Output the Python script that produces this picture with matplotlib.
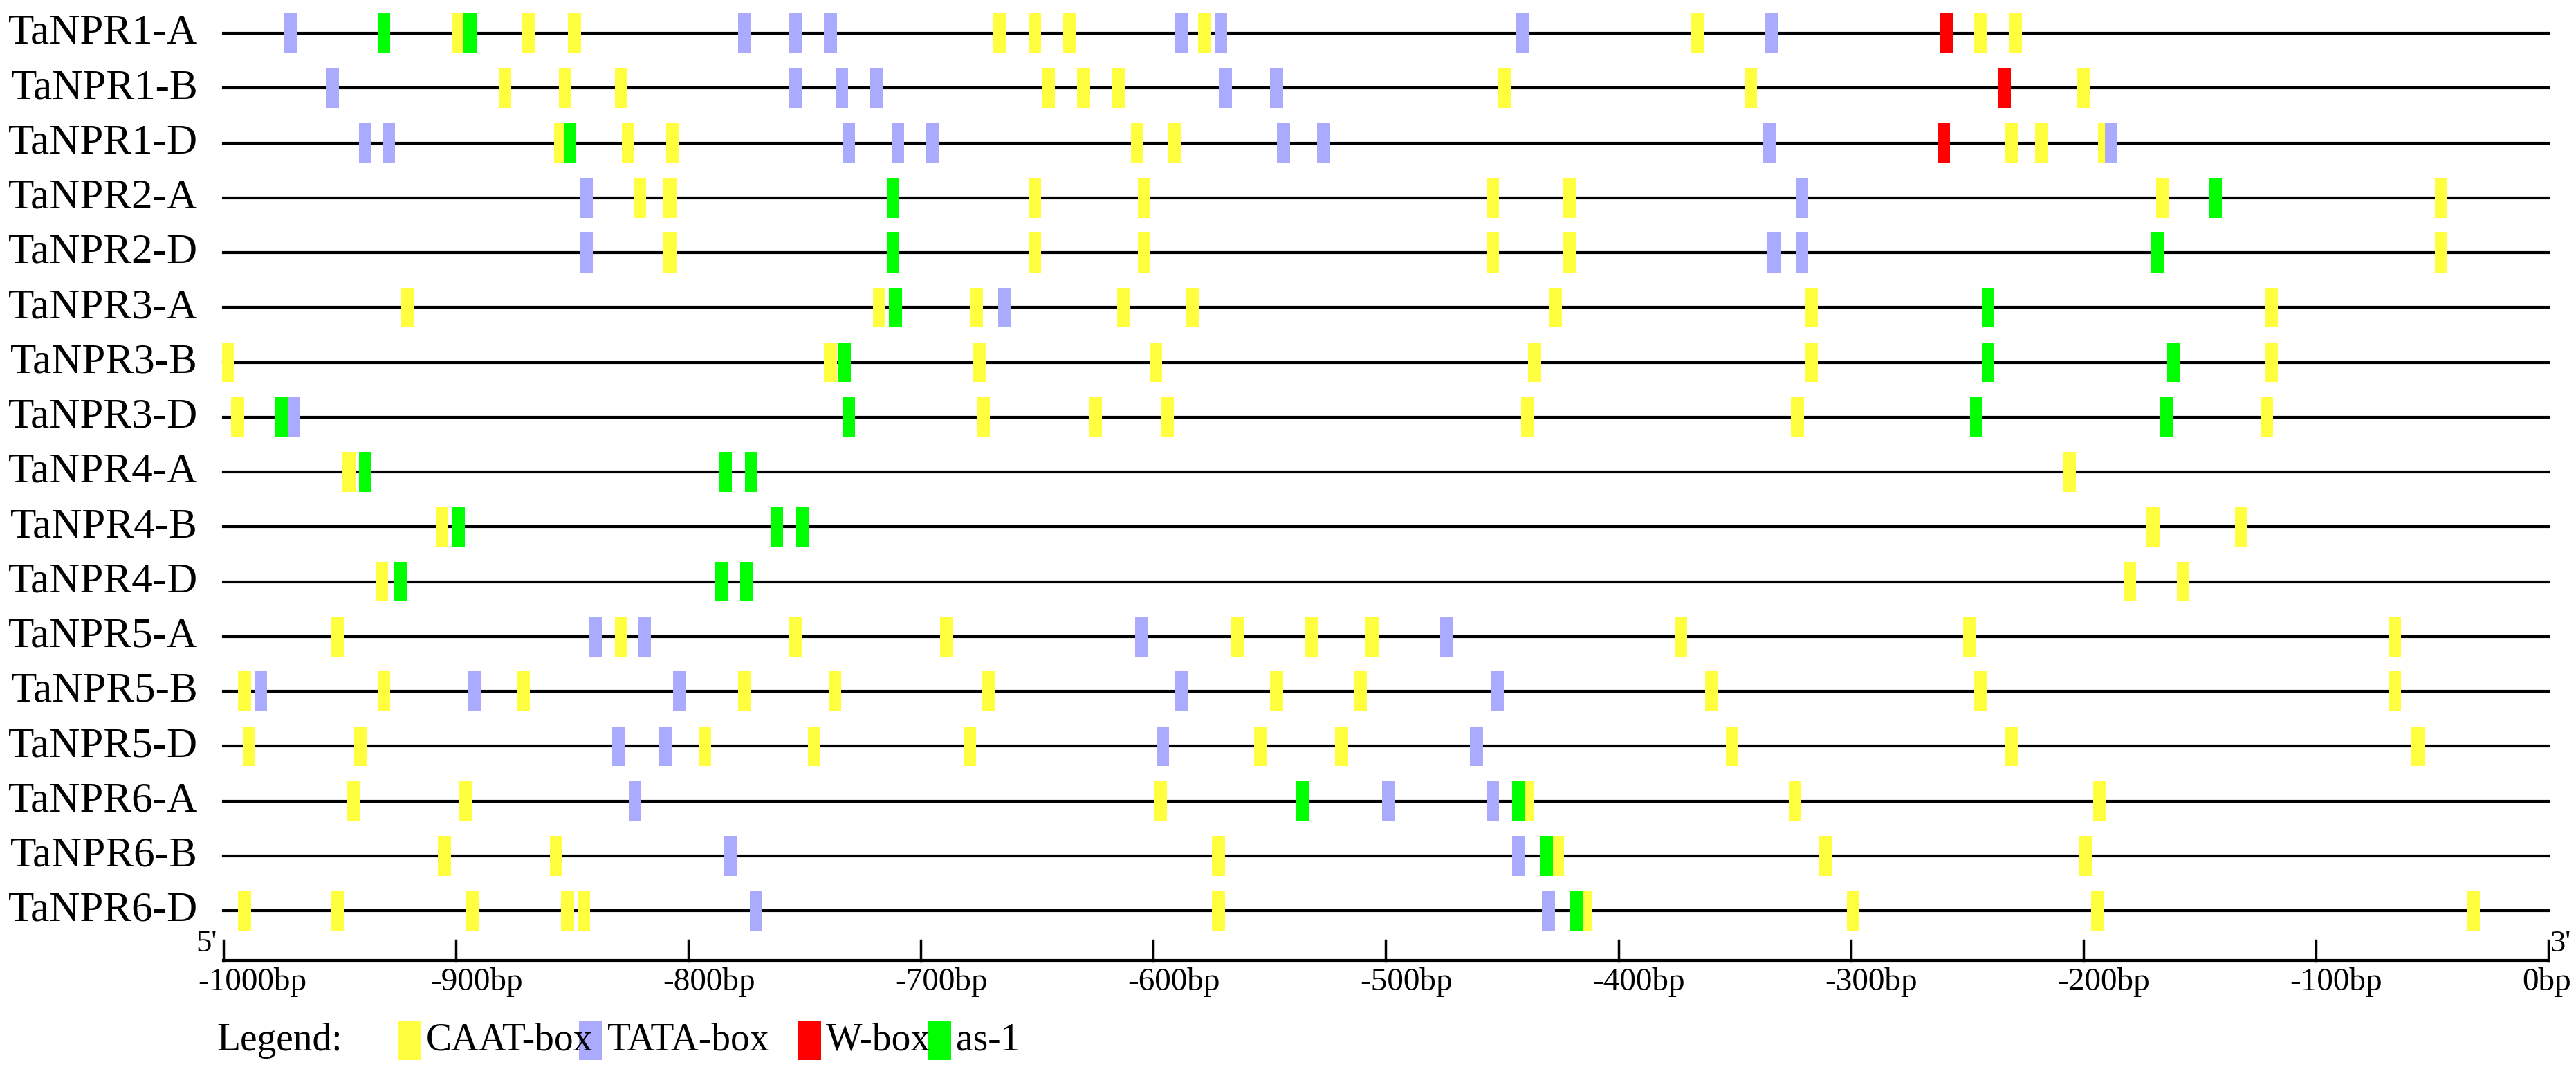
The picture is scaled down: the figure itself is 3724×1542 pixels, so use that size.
import matplotlib
matplotlib.use("Agg")
import matplotlib.pyplot as plt
from matplotlib.patches import Rectangle

genes = ["TaNPR1-A","TaNPR1-B","TaNPR1-D","TaNPR2-A","TaNPR2-D","TaNPR3-A","TaNPR3-B","TaNPR3-D",
         "TaNPR4-A","TaNPR4-B","TaNPR4-D","TaNPR5-A","TaNPR5-B","TaNPR5-D","TaNPR6-A","TaNPR6-B","TaNPR6-D"]

caat = [
 [-899,-869,-849,-666,-651,-636,-578,-366,-244,-229],
 [-879,-853,-829,-645,-630,-615,-449,-343,-200],
 [-855,-826,-807,-607,-591,-231,-218,-191],
 [-821,-808,-651,-604,-454,-421,-166,-46],
 [-808,-651,-604,-454,-421,-46],
 [-921,-718,-676,-613,-583,-427,-317,-119],
 [-998,-739,-675,-599,-436,-317,-119],
 [-994,-673,-625,-594,-439,-323,-121],
 [-946,-206],
 [-906,-170,-132],
 [-932,-180,-157],
 [-951,-829,-754,-689,-564,-532,-506,-373,-249,-66],
 [-991,-931,-871,-776,-737,-671,-547,-511,-360,-244,-66],
 [-989,-941,-793,-746,-679,-554,-519,-351,-231,-56],
 [-944,-896,-597,-439,-324,-193],
 [-905,-857,-572,-426,-311,-199],
 [-991,-951,-893,-852,-845,-572,-414,-299,-194,-32],
]
tata = [
 [-971,-776,-754,-739,-588,-571,-441,-334],
 [-953,-754,-734,-719,-569,-547],
 [-939,-929,-731,-710,-695,-544,-527,-335,-188],
 [-844,-321],
 [-844,-333,-321],
 [-664],
 [],
 [-970],
 [],
 [],
 [],
 [-840,-819,-605,-474],
 [-984,-892,-804,-588,-452],
 [-830,-810,-596,-461],
 [-823,-499,-454],
 [-782,-443],
 [-771,-430],
]
wbox = [[-259],[-234],[-260],[],[],[],[],[],[],[],[],[],[],[],[],[],[]]
as1 = [
 [-931,-894],
 [],
 [-851],
 [-712,-143],
 [-712,-168],
 [-711,-241],
 [-733,-241,-161],
 [-975,-731,-246,-164],
 [-939,-784,-773],
 [-899,-762,-751],
 [-924,-786,-775],
 [],[],[],
 [-536,-443],
 [-431],
 [-418],
]
tick_vals = [-1000,-900,-800,-700,-600,-500,-400,-300,-200,-100,0]
tick_labels = [f"{v}bp" for v in tick_vals]
legend_names = ["CAAT-box","TATA-box","W-box","as-1"]
colors = {"CAAT-box":"#FFFF40","TATA-box":"#AAAAFF","W-box":"#FF0000","as-1":"#00FF00"}

plt.rcParams['font.family'] = ['Liberation Serif','DejaVu Serif']
fig = plt.figure(figsize=(37.24,15.42), dpi=100)
ax = fig.add_axes([0,0,1,1])
ax.set_xlim(-1096.2, 12)
ax.set_ylim(642, 0)
ax.axis('off')

w = 5.5
h = 12
row_y = [20 + 33.0*i for i in range(len(genes))]
for i, g in enumerate(genes):
    y = row_y[i]
    ax.plot([-1000, 0], [y, y], color='black', lw=3, zorder=1)
    ax.text(-1011, y, g, ha='right', va='center', fontsize=44)
    for name, data in [("CAAT-box",caat),("TATA-box",tata),("W-box",wbox),("as-1",as1)]:
        for v in data[i]:
            ax.add_patch(Rectangle((v - w/2, y - h), w, 2*h, color=colors[name], lw=0, zorder=2))

# axis
ya = 578
ax.plot([-1000, 0], [ya, ya], color='black', lw=3)
for v, lab in zip(tick_vals, tick_labels):
    ax.plot([v, v], [ya, ya-12], color='black', lw=2.5)
    ax.text(v - 11, ya + 4, lab, ha='left', va='top', fontsize=34)
ax.text(-1003, 568, "5'", ha='right', va='center', fontsize=32)
ax.text(1, 568, "3'", ha='left', va='center', fontsize=32)

# legend
yl = 626
ax.text(-1003, yl, "Legend:", ha='left', va='center', fontsize=40)
lx = [-925, -847, -753, -697]
for x0, name in zip(lx, legend_names):
    ax.add_patch(Rectangle((x0, yl-12), 10, 24, color=colors[name], lw=0))
    ax.text(x0 + 12, yl, name, ha='left', va='center', fontsize=40)

fig.savefig("out.png", dpi=100)
